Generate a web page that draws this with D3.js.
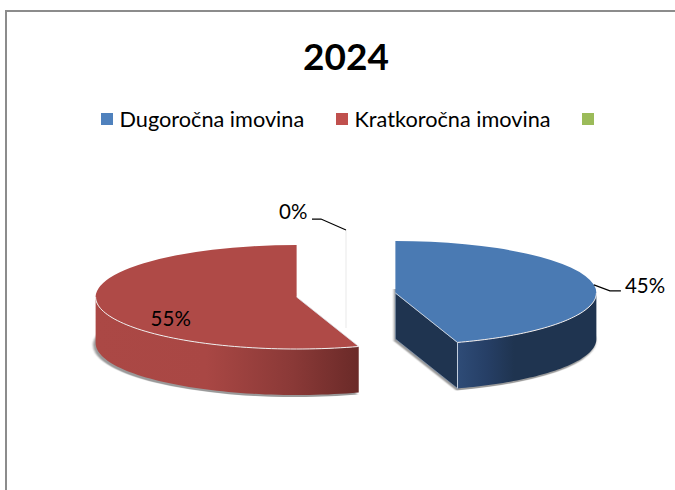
<!DOCTYPE html>
<html><head><meta charset="utf-8">
<script src="https://cdn.jsdelivr.net/npm/d3@7"></script>
<style>html,body{margin:0;padding:0;background:#fff}svg{display:block}text{font-family:Lato,"Open Sans",sans-serif;fill:#000}</style>
</head><body><svg id="c" width="675" height="490"></svg>
<script>
const title = "2024";
const categories = ["Dugoročna imovina", "Kratkoročna imovina", ""];
const values = [45, 55, 0];
const colors = ["#4F81BD", "#C0504D", "#9BBB59"];
const topColors = ["#4A7AB3", "#AF4A47", "#9BBB59"];

const W = 675, H = 490;
const cx = 346, cy = 295, rx = 201, tilt = 0.2587, depth = 46, explode = 50;
const svg = d3.select("#c");

// frame
svg.append("path").attr("d", `M6 ${H}V11H${W}`).attr("fill", "none").attr("stroke", "#8c8c8c").attr("stroke-width", 2);

// title and legend
svg.append("text").attr("x", 346).attr("y", 70).attr("text-anchor", "middle")
  .attr("font-size", 37).attr("font-weight", 700).text(title);
const legendX = d3.scaleOrdinal().domain(categories).range([101, 336, 582]);
const legend = svg.append("g").selectAll("g").data(categories).join("g")
  .attr("transform", d => `translate(${legendX(d)},113)`);
legend.append("rect").attr("width", 12).attr("height", 12).attr("fill", (d, i) => colors[i]);
legend.append("text").attr("x", 18.5).attr("y", 14).attr("font-size", 21.7).text(d => d);

// defs
const defs = svg.append("defs");
defs.append("filter").attr("id", "blur").attr("x", "-10%").attr("y", "-10%").attr("width", "120%").attr("height", "120%")
  .append("feGaussianBlur").attr("stdDeviation", 1.3);
function grad(id, x1, x2, stops) {
  const g = defs.append("linearGradient").attr("id", id).attr("gradientUnits", "userSpaceOnUse")
    .attr("x1", x1).attr("x2", x2).attr("y1", 0).attr("y2", 0);
  stops.forEach(s => g.append("stop").attr("offset", s[0]).attr("stop-color", s[1]));
}
grad("wall0", 459, 597, [[0, "#2E4B76"], [0.2, "#263F66"], [0.4, "#1F3450"], [1, "#1F3450"]]);
grad("wall1", 95, 359, [[0, "#AB4845"], [0.42, "#A94744"], [0.75, "#8A3937"], [1, "#6A2A28"]]);

// pie
const pie = d3.pie().value(d => d).sort(null).startAngle(0).endAngle(2 * Math.PI);
const arcs = pie(values);
const arc = d3.arc().innerRadius(0).outerRadius(rx);
const line = d3.line();
const px = (c, a, d = 0) => [c.x + rx * Math.sin(a), c.y - rx * tilt * Math.cos(a) + d];
const centre = a => {
  const m = (a.startAngle + a.endAngle) / 2;
  return { x: cx + explode * Math.sin(m), y: cy - explode * tilt * Math.cos(m) };
};
const sweep = (c, a0, a1, d) => d3.range(0, 61).map(i => px(c, a0 + (a1 - a0) * i / 60, d));

const g = svg.append("g");

// shadow under each exploded slice
arcs.forEach(a => {
  if (a.value === 0) return;
  const c = centre(a);
  g.append("path").attr("d", arc(a))
    .attr("transform", `translate(${c.x - 1.5},${c.y + depth + 2}) scale(1.005,${tilt})`)
    .attr("fill", "#9a9a9a").attr("filter", "url(#blur)");
});

// zero slice: only a hairline
arcs.filter(a => a.value === 0).forEach(a => {
  const c = centre(a);
  g.append("path").attr("d", line([px(c, a.startAngle), [c.x, c.y + depth]]))
    .attr("stroke", "#e9e9e9").attr("fill", "none");
});

// walls
arcs.forEach((a, i) => {
  if (a.value === 0) return;
  const c = centre(a);
  const from = Math.max(a.startAngle, Math.PI / 2);
  const to = Math.min(a.endAngle, 3 * Math.PI / 2);
  const cut = i === 0 ? a.endAngle : null;
  if (cut !== null) {
    const p = px(c, cut);
    g.append("path").attr("d", line([[c.x, c.y], p, [p[0], p[1] + depth], [c.x, c.y + depth]]) + "Z")
      .attr("fill", "#1F3450").attr("stroke", "#8fa3bd").attr("stroke-width", 0.6);
  }
  const top = sweep(c, from, to, 0), bot = sweep(c, to, from, depth);
  g.append("path").attr("d", line(top.concat(bot)) + "Z").attr("fill", `url(#wall${i})`);
  if (i === 0) {
    const p = px(c, cut);
    g.append("path").attr("d", line([p, [p[0], p[1] + depth]])).attr("stroke", "#c4d0df").attr("stroke-width", 1);
  }
});

// tops
arcs.forEach((a, i) => {
  if (a.value === 0) return;
  const c = centre(a);
  g.append("path").attr("d", arc(a))
    .attr("transform", `translate(${c.x},${c.y}) scale(1,${tilt})`)
    .attr("fill", topColors[i]);
  g.append("path").attr("d", line(sweep(c, Math.max(a.startAngle, Math.PI / 2), Math.min(a.endAngle, 3 * Math.PI / 2), 0)))
    .attr("fill", "none").attr("stroke", "#f2eeee").attr("stroke-width", 1);
  g.append("path").attr("d", line([[c.x, c.y], px(c, i === 0 ? a.endAngle : a.startAngle)]))
    .attr("fill", "none").attr("stroke", "#dfe3ea").attr("stroke-width", 0.8);
});

// data labels
const fmt = d3.format(".0%");
const total = d3.sum(values);
const labelOffset = [[31, 8], [-146, 29], [-67, -11]];
const leaderPts = [[[16, 6], [27, 6]], null, [[-25, -11], [-34, -11]]];
arcs.forEach((a, i) => {
  const c = centre(a), m = (a.startAngle + a.endAngle) / 2;
  const p = px(c, m);
  const l = labelOffset[i];
  const tx = i === 1 ? c.x + l[0] : p[0] + l[0];
  const ty = i === 1 ? c.y + l[1] : p[1] + l[1];
  svg.append("text").attr("x", tx).attr("y", ty)
    .attr("font-size", 20.5).text(fmt(a.value / total));
  if (leaderPts[i]) {
    svg.append("path").attr("d", line([p].concat(leaderPts[i].map(o => [p[0] + o[0], p[1] + o[1]]))))
      .attr("fill", "none").attr("stroke", "#000").attr("stroke-width", 1.2);
  }
});
</script></body></html>
